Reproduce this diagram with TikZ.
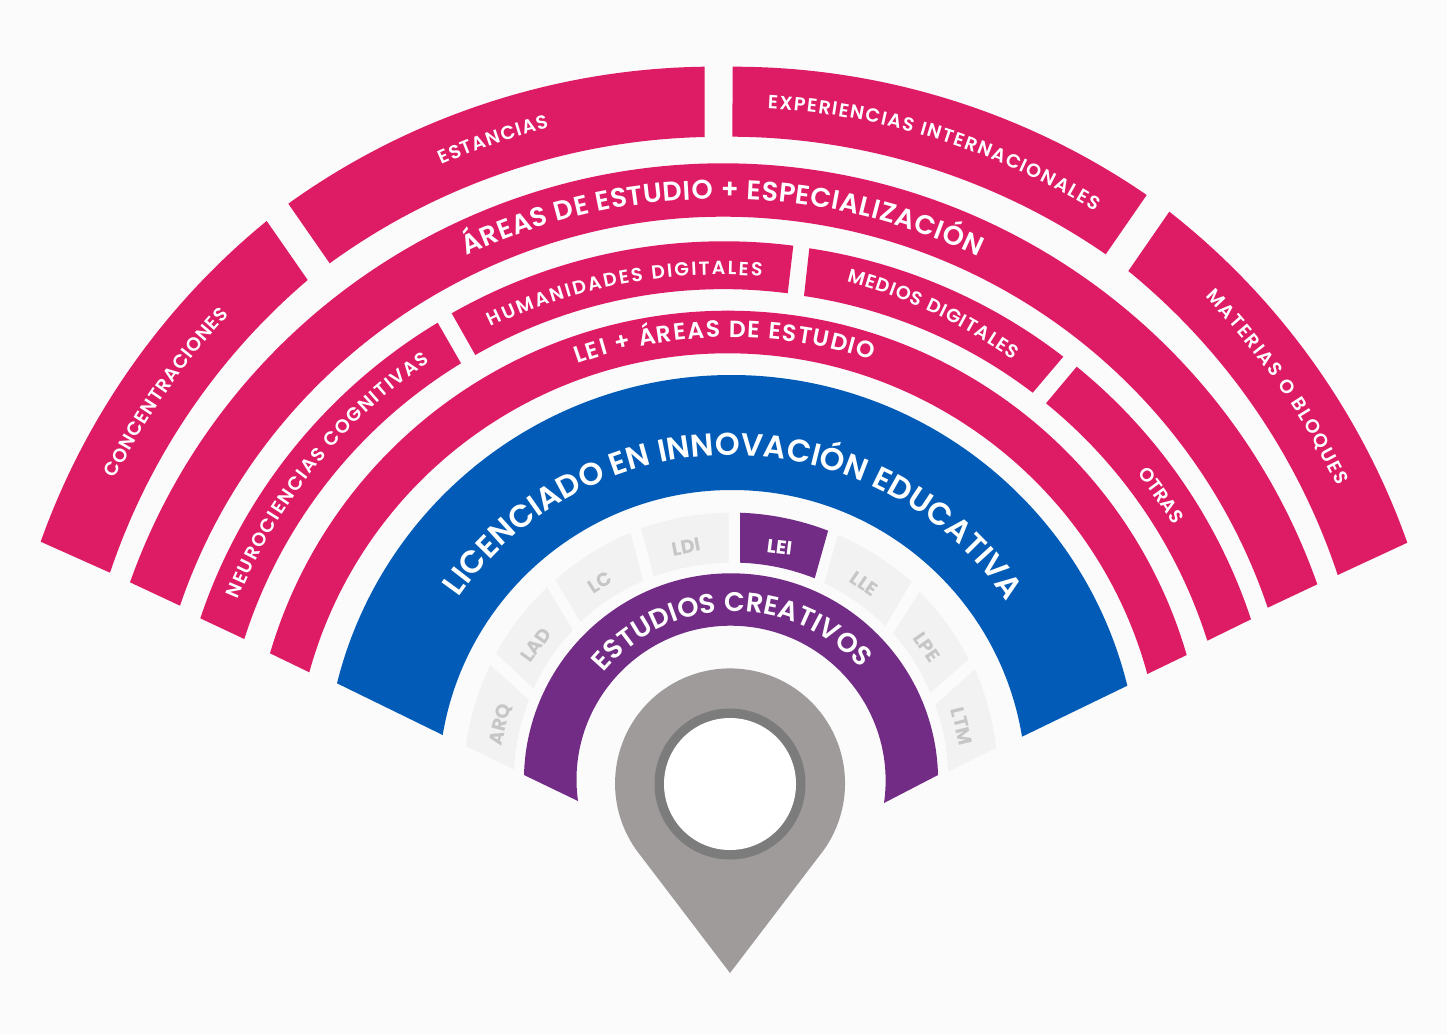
\documentclass[tikz,border=0pt]{standalone}
\usepackage{fontspec}
\setmainfont{Poppins}
\newfontfamily\fansemi{Poppins SemiBold}
\usetikzlibrary{decorations.text}
\definecolor{page_bg}{RGB}{251,251,252}
\definecolor{fan_pink}{RGB}{222,28,101}
\definecolor{fan_blue}{RGB}{1,91,183}
\definecolor{fan_purple}{RGB}{114,44,133}
\definecolor{pin_grey}{RGB}{158,155,154}
\definecolor{pin_dark}{RGB}{125,124,125}
\definecolor{tab_grey}{RGB}{242,242,242}
\definecolor{tab_text}{RGB}{198,198,198}
\tikzset{
    fan_bend/.code={
        \pgfmathsetmacro\fanloose{0.8514/cos(#1/2)^2}
        \tikzset{bend left=#1, looseness=\fanloose}
    },
    ring_pink/.style={fill=fan_pink},
    ring_blue/.style={fill=fan_blue},
    ring_purple/.style={fill=fan_purple},
    tab_off/.style={fill=tab_grey},
    tab_lbl/.style={
        font=\bfseries\fontsize{19}{19}\selectfont, text=tab_text, inner sep=0pt
    },
    small_lbl/.style={
        decorate, decoration={text along path, text align={fit to path},
        text={|\fansemi\fontsize{19}{19}\selectfont\color{white}|#1}}
    },
    big_lbl/.style n args={2}{
        decorate, decoration={text along path, text align={fit to path},
        text={|\fansemi\fontsize{#1}{#1}\selectfont\color{white}|#2}}
    }
}
\begin{document}
\begin{tikzpicture}[x=1pt, y=1pt]
\useasboundingbox (0,-1035) rectangle (1447,0);
\fill[page_bg] (0,-1035) rectangle (1447,0);

% outer band
\fill[ring_pink] (40.7,-541.7) to[fan_bend=15.6] (266.7,-221) -- (307.7,-280) to[fan_bend=-15.5] (110,-572.7) -- cycle;
\fill[ring_pink] (288.3,-203.7) to[fan_bend=17.5] (704.7,-66.7) -- (704.7,-137) to[fan_bend=-17.4] (329.7,-263.3) -- cycle;
\fill[ring_pink] (732.7,-66.7) to[fan_bend=17.3] (1146.7,-195) -- (1105.7,-254.3) to[fan_bend=-17.2] (732.3,-136.7) -- cycle;
\fill[ring_pink] (1169.3,-211.7) to[fan_bend=16.2] (1407.3,-542.7) -- (1337.7,-575) to[fan_bend=-16.2] (1128.3,-271) -- cycle;

% areas band
\fill[ring_pink] (130,-582.3) to[fan_bend=35.25] (723.65,-163.3) to[fan_bend=35.25] (1317.3,-584.3) -- (1267.7,-607.7) to[fan_bend=-35.65] (723.85,-216.7) to[fan_bend=-35.65] (180,-605.7) -- cycle;

% study tabs
\fill[ring_pink] (200.3,-618.3) to[fan_bend=20.2] (437.7,-322.7) -- (461,-363.3) to[fan_bend=-20.5] (244.3,-639) -- cycle;
\fill[ring_pink] (451.7,-313.3) to[fan_bend=18.5] (793.3,-245.7) -- (787.7,-293.3) to[fan_bend=-18.6] (475.3,-355) -- cycle;
\fill[ring_pink] (809.3,-248.3) to[fan_bend=14.6] (1063.3,-356.7) -- (1032.7,-392.7) to[fan_bend=-14.4] (804,-296) -- cycle;
\fill[ring_pink] (1076.7,-366.7) to[fan_bend=16.3] (1251,-619.3) -- (1207.3,-640.7) to[fan_bend=-16.7] (1046,-403.3) -- cycle;

% lei band
\fill[ring_pink] (270,-653.3) to[fan_bend=36.85] (728.35,-310.7) to[fan_bend=36.85] (1186.7,-655) -- (1147.3,-674) to[fan_bend=-37.35] (728.3,-353.3) to[fan_bend=-37.35] (309.3,-672.3) -- cycle;

% blue band
\fill[ring_blue] (337,-683.3) to[fan_bend=38.05] (732.15,-375) to[fan_bend=38.05] (1127.3,-685.7) -- (1022,-736.7) to[fan_bend=-40.35] (732.35,-490) to[fan_bend=-40.35] (442.7,-735) -- cycle;

% programme tabs
\fill[tab_off] (465.9,-746) to[fan_bend=9] (490.3,-665) -- (528.9,-700) to[fan_bend=-9.2] (514,-769.3) -- cycle;
\fill[tab_off] (496.2,-653.3) to[fan_bend=8.8] (547.1,-587.3) -- (572.9,-630) to[fan_bend=-9.2] (533.3,-688.3) -- cycle;
\fill[tab_off] (555.4,-580) to[fan_bend=9.4] (630.5,-532.7) -- (643.2,-581) to[fan_bend=-9.7] (580.5,-621.7) -- cycle;
\fill[tab_off] (641.1,-528.3) to[fan_bend=9.4] (728.6,-512.7) -- (728.6,-562.7) to[fan_bend=-9.9] (653.9,-576.7) -- cycle;
\fill[ring_purple] (740,-512.7) to[fan_bend=9.5] (828.1,-530.7) -- (814.7,-578.3) to[fan_bend=-9.9] (740,-562.7) -- cycle;
\fill[tab_off] (837.8,-535) to[fan_bend=9.3] (911.4,-581.7) -- (885.3,-626) to[fan_bend=-9.7] (824.3,-583.3) -- cycle;
\fill[tab_off] (919.7,-591.7) to[fan_bend=8.9] (968.6,-659.3) -- (930.4,-692.7) to[fan_bend=-9.1] (893.2,-633.3) -- cycle;
\fill[tab_off] (974.8,-669.3) to[fan_bend=8.6] (996.2,-747.7) -- (948.3,-771.7) to[fan_bend=-8.9] (935.2,-705) -- cycle;

\node[tab_lbl, rotate=75.6] (arq) at (501,-725) {ARQ};
\node[tab_lbl, rotate=54.4] (lad) at (536,-645) {LAD};
\node[tab_lbl, rotate=32.8] (lc) at (600,-582) {LC};
\node[tab_lbl, rotate=10.5] (ldi) at (686,-547) {LDI};
\node[tab_lbl, rotate=-7, text=white] (lei) at (779.6,-547.3) {LEI};
\node[tab_lbl, rotate=-34.4] (lle) at (864,-584) {LLE};
\node[tab_lbl, rotate=-55] (lpe) at (927,-647) {LPE};
\node[tab_lbl, rotate=-76] (ltm) at (962,-726) {LTM};

% purple band
\fill[ring_purple] (524,-775) to[fan_bend=44.3] (731,-573.3) to[fan_bend=44.3] (938,-775) -- (884,-803) to[fan_bend=-49.05] (731,-625.7) to[fan_bend=-49.05] (578,-801) -- cycle;

% pin
\fill[pin_grey] (730,-973) -- (636.3,-850) arc[start angle=215.4, end angle=-35.4, radius=115] -- cycle;
\fill[pin_dark] (730,-784) circle[radius=75.5];
\fill[white] (730,-784) circle[radius=66];

% curved labels
\path[small_lbl=CONCENTRACIONES] (115,-479) to[fan_bend=8.2] (229,-315);
\path[small_lbl=ESTANCIAS] (442,-165) to[fan_bend=4.7] (549,-127.5);
\path[small_lbl=EXPERIENCIAS INTERNACIONALES] (767.5,-108.5) to[fan_bend=14.3] (1095,-211.5);
\path[small_lbl=MATERIAS O BLOQUES] (1205,-297) to[fan_bend=9.4] (1337,-486);
\path[big_lbl={27}{ÁREAS DE ESTUDIO + ESPECIALIZACIÓN}] (466.7,-255.7) to[fan_bend=25.3] (978,-256.5);
\path[small_lbl=NEUROCIENCIAS COGNITIVAS] (238,-600) to[fan_bend=16.7] (430,-361.5);
\path[small_lbl=HUMANIDADES DIGITALES] (491,-327) to[fan_bend=15.3] (762,-276.7);
\path[small_lbl=MEDIOS DIGITALES] (846.5,-281.7) to[fan_bend=10.2] (1013,-360);
\path[small_lbl=OTRAS] (1137,-473.5) to[fan_bend=3.2] (1173,-524);
\path[big_lbl={23.5}{LEI + ÁREAS DE ESTUDIO}] (577.5,-364) to[fan_bend=19] (872,-360);
\path[big_lbl={31.5}{LICENCIADO EN INNOVACIÓN EDUCATIVA}] (459,-597.5) to[fan_bend=55.5] (1006.5,-601);
\path[big_lbl={27}{ESTUDIOS CREATIVOS}] (604,-672.3) to[fan_bend=49.4] (861,-668.8);
\end{tikzpicture}
\end{document}
